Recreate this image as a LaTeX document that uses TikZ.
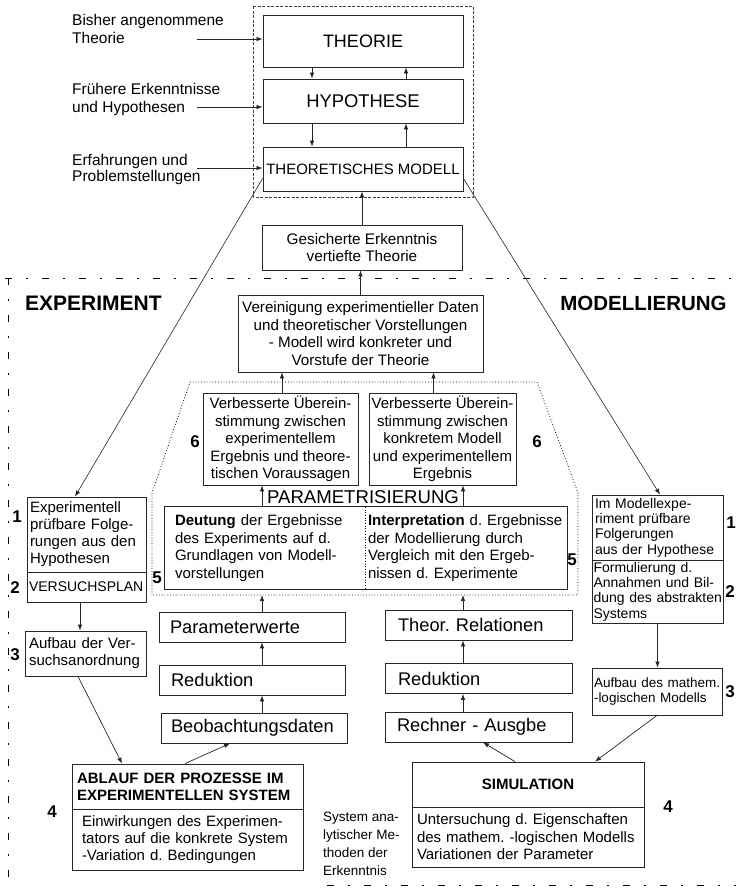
\documentclass[tikz,border=0pt]{standalone}
\usepackage{fontspec}
\setmainfont{Liberation Sans}
\usetikzlibrary{arrows.meta}
\newcommand\myfs[2]{\fontsize{#1}{#2}\selectfont}
\tikzset{
  box/.style={draw=black!85, line width=0.8pt, inner sep=0pt},
  tl/.style={text width=#1, execute at begin node={\rightskip=0pt plus 1fil minus 40pt\relax\hyphenpenalty=10000\exhyphenpenalty=10000\relax}},
  arr/.style={-{Latex[length=6pt,width=4.5pt]}, line width=0.7pt, draw=black!85},
  lab/.style={inner sep=0pt, align=left, anchor=west},
  num/.style={inner sep=0pt, font=\myfs{17}{19}\bfseries},
  frame/.style={line width=1pt, dash pattern=on 7pt off 14pt on 1.5pt off 14.5pt},
}
\begin{document}
\frenchspacing
\begin{tikzpicture}[x=1pt,y=-1pt]
\useasboundingbox (0,0) rectangle (736,889);

% --- top part ---
\draw[black!75, line width=0.6pt, dash pattern=on 3pt off 1.5pt] (253,6) rectangle (473,197);
\node[box, minimum width=200pt, minimum height=52pt, font=\myfs{18}{20}] (theorie) at (363,41) {THEORIE};
\node[box, minimum width=200pt, minimum height=44pt, font=\myfs{18.4}{20}] (hypo) at (363,101) {HYPOTHESE};
\node[box, minimum width=200pt, minimum height=44pt, font=\myfs{15}{17}] (tm) at (363,169) {THEORETISCHES MODELL};

\node[lab, font=\myfs{15.5}{18}] (l1) at (72,29) {Bisher angenommene\\Theorie};
\node[lab, font=\myfs{15.5}{18}] (l2) at (72,99) {Frühere Erkenntnisse\\und Hypothesen};
\node[lab, font=\myfs{15.5}{16}] (l3) at (72,169.5) {Erfahrungen und\\Problemstellungen};
\coordinate (a1) at (197,39);
\coordinate (a2) at (197,107);
\coordinate (a3) at (197,168);
\draw[arr] (a1) -- (a1 -| theorie.west);
\draw[arr] (a2) -- (a2 -| hypo.west);
\draw[arr] (a3) -- (a3 -| tm.west);

\draw[arr] ([xshift=-51pt]theorie.south) -- ([xshift=-51pt]hypo.north);
\draw[arr] ([xshift=43pt]hypo.north) -- ([xshift=43pt]theorie.south);
\draw[arr] ([xshift=-51pt]hypo.south) -- ([xshift=-51pt]tm.north);
\draw[arr] ([xshift=43pt]tm.north) -- ([xshift=43pt]hypo.south);

\node[box, minimum width=200pt, minimum height=45pt, align=center, font=\myfs{15.3}{17.5}] (gesich) at (362,247.5) {Gesicherte Erkenntnis\\vertiefte Theorie};
\draw[arr] (gesich.north) -- (gesich.north |- tm.south);

% --- frame ---
\draw[frame] (5,278) -- (736,278);
\draw[frame] (8,278) -- (8,880);
\draw[frame] (327,885) -- (736,885);

\node[inner sep=0pt, anchor=west, font=\myfs{21}{23}\bfseries] (expt) at (25,303) {EXPERIMENT};
\node[inner sep=0pt, font=\myfs{20.5}{23}\bfseries] (modt) at (643.5,303) {MODELLIERUNG};

\node[box, minimum width=245pt, minimum height=77pt, align=center, font=\myfs{15.2}{17.5}] (verein) at (360.5,333.5) {Vereinigung experimentieller Daten\\und theoretischer Vorstellungen\\- Modell wird konkreter und\\Vorstufe der Theorie};
\draw[arr] (verein.north) -- (verein.north |- gesich.south);

% --- dotted polygon ---
\coordinate (pTL) at (190,382);
\coordinate (pTR) at (537,382);
\coordinate (pRM) at (578,493);
\coordinate (pBR) at (578,595);
\coordinate (pBL) at (152,595);
\coordinate (pLM) at (152,493);
\draw[dotted, line width=0.8pt] (pTL) -- (pTR) -- (pRM) -- (pBR) -- (pBL) -- (pLM) -- cycle;

\node[box, minimum width=155pt, minimum height=92pt, align=center, font=\myfs{15}{17.5}] (verb1) at (280.5,439) {Verbesserte Überein-\\stimmung zwischen\\experimentellem\\Ergebnis und theore-\\tischen Voraussagen};
\node[box, minimum width=147pt, minimum height=92pt, align=center, font=\myfs{15}{17.5}] (verb2) at (442.5,439) {Verbesserte Überein-\\stimmung zwischen\\konkretem Modell\\und experimentellem\\Ergebnis};
\draw[arr] ([xshift=1.5pt]verb1.north) -- ([xshift=1.5pt]verb1.north |- verein.south);
\draw[arr] ([xshift=-9pt]verb2.north) -- ([xshift=-9pt]verb2.north |- verein.south);

\node[num] (n6a) at (195,442) {6};
\node[num] (n6b) at (537,442) {6};

\node[inner sep=0pt, font=\myfs{18.6}{20}] (param) at (363,497) {PARAMETRISIERUNG};

\node[inner sep=0pt, inner xsep=10pt, minimum height=82pt, tl=180pt, font=\myfs{15}{17.5}] (deutL) at (265,548) {\textbf{Deutung} der Ergebnisse\\des Experiments auf d.\\Grundlagen von Modell-\\vorstellungen};
\node[inner sep=0pt, inner xsep=3pt, minimum height=82pt, tl=196pt, font=\myfs{15}{17.5}] (deutR) at (466,548) {\textbf{Interpretation} d. Ergebnisse\\der Modellierung durch\\Vergleich mit den Ergeb-\\nissen d. Experimente};
\draw[black!85, line width=0.8pt] (deutL.north west) rectangle (deutR.south east);
\draw[dotted, line width=0.7pt] (deutL.north east) -- (deutL.south east);
\draw[arr] ([xshift=-3pt]deutL.north) -- ([xshift=-3pt]deutL.north |- verb1.south);
\draw[arr] ([xshift=-3pt]deutR.north) -- ([xshift=-3pt]deutR.north |- verb2.south);

\node[num] (n5a) at (157,578) {5};
\node[num] (n5b) at (572,560) {5};

% --- middle columns ---
\node[box, minimum width=186pt, minimum height=30pt, inner xsep=11pt, tl=164pt, font=\myfs{18.3}{20}] (pw) at (252,627) {Parameterwerte};
\node[box, minimum width=186pt, minimum height=30pt, inner xsep=12pt, tl=162pt, font=\myfs{18.3}{20}] (red1) at (252,680) {Reduktion};
\node[box, minimum width=186pt, minimum height=30pt, inner xsep=10pt, tl=166pt, font=\myfs{18.3}{20}] (beob) at (254,728) {Beobachtungsdaten};
\draw[arr] ([xshift=10pt]pw.north) -- ([xshift=10pt]pw.north |- pBL);
\draw[arr] ([xshift=10pt]red1.north) -- ([xshift=10pt]pw.south);
\draw[arr] ([xshift=10pt]red1.south |- beob.north) -- ([xshift=10pt]red1.south);

\node[box, minimum width=187pt, minimum height=30pt, inner xsep=13pt, tl=161pt, font=\myfs{18.3}{20}] (theor) at (478.5,625) {Theor. Relationen};
\node[box, minimum width=187pt, minimum height=30pt, inner xsep=13pt, tl=161pt, font=\myfs{18.3}{20}] (red2) at (478.5,678.5) {Reduktion};
\node[box, minimum width=187pt, minimum height=30pt, inner xsep=12pt, tl=163pt, font=\myfs{18.3}{20}] (rech) at (478.5,727) {Rechner - Ausgbe};
\draw[arr] ([xshift=-15.5pt]theor.north) -- ([xshift=-15.5pt]theor.north |- pBR);
\draw[arr] ([xshift=-15.5pt]red2.north) -- ([xshift=-15.5pt]theor.south);
\draw[arr] ([xshift=-15.5pt]rech.north) -- ([xshift=-15.5pt]red2.south);

% --- left column (EXPERIMENT) ---
\node[box, minimum width=119pt, minimum height=75pt, inner xsep=3pt, tl=113pt, font=\myfs{15}{17}] (exp1) at (86.5,534.5) {Experimentell\\prüfbare Folge-\\rungen aus den\\Hypothesen};
\node[box, minimum width=119pt, minimum height=30pt, inner xsep=2pt, tl=115pt, font=\myfs{14}{16}] (plan) at (86.5,587) {VERSUCHSPLAN};
\node[box, minimum width=121pt, minimum height=45pt, inner xsep=4pt, tl=113pt, font=\myfs{15}{17}] (auf1) at (85.5,653.5) {Aufbau der Ver-\\suchsanordnung};
\node[box, minimum width=231pt, minimum height=45pt, inner xsep=5pt, tl=221pt, font=\myfs{15}{17}\bfseries] (ablT) at (187.5,786.5) {ABLAUF DER PROZESSE IM\\EXPERIMENTELLEN SYSTEM};
\node[box, minimum width=231pt, minimum height=61pt, inner xsep=10pt, tl=211pt, font=\myfs{15}{17}] (ablB) at (187.5,839.5) {Einwirkungen des Experimen-\\tators auf die konkrete System\\-Variation d. Bedingungen};

\node[num] (n1a) at (17,517) {1};
\node[num] (n2a) at (15,588) {2};
\node[num] (n3a) at (15,655) {3};
\node[num] (n4a) at (52,812) {4};

\draw[arr] ([xshift=-6.5pt]plan.south) -- ([xshift=-5.5pt]auf1.north);
\draw[arr] ([xshift=-7.5pt]auf1.south) -- ([xshift=-65.5pt]ablT.north);
\draw[arr] ([xshift=-2.5pt]ablT.north) -- ([xshift=-24pt]beob.south);

% --- right column (MODELLIERUNG) ---
\node[box, minimum width=131pt, minimum height=65pt, inner xsep=3pt, tl=125pt, font=\myfs{14}{15.3}] (mexp) at (657.5,527.5) {Im Modellexpe-\\riment prüfbare\\Folgerungen\\aus der Hypothese};
\node[box, minimum width=131pt, minimum height=63pt, inner xsep=1.5pt, tl=128pt, font=\myfs{14}{15.3}] (form) at (657.5,591.5) {Formulierung d.\\Annahmen und Bil-\\dung des abstrakten\\Systems};
\node[box, minimum width=130pt, minimum height=47pt, inner xsep=2pt, tl=126pt, font=\myfs{13.5}{15}] (auf2) at (657,691.5) {Aufbau des mathem.\\-logischen Modells};
\node[box, minimum width=232pt, minimum height=45pt, font=\myfs{15}{17}\bfseries] (simT) at (528,784.5) {SIMULATION};
\node[box, minimum width=232pt, minimum height=60pt, inner xsep=5pt, tl=222pt, font=\myfs{15}{17.5}] (simB) at (528,837) {Untersuchung d. Eigenschaften\\des mathem. -logischen Modells\\Variationen der Parameter};

\node[num] (n1b) at (731,523) {1};
\node[num] (n2b) at (730,592) {2};
\node[num] (n3b) at (730,692) {3};
\node[num] (n4b) at (668,807) {4};

\draw[arr] (form.south) -- (form.south |- auf2.north);
\draw[arr] (auf2.south) -- ([xshift=67pt]simT.north);
\draw[arr] ([xshift=-13pt]simT.north) -- ([xshift=4.5pt]rech.south);

\node[lab, font=\myfs{13.5}{18}] (sysa) at (323,844) {System ana-\\lytischer Me-\\thoden der\\Erkenntnis};

% --- long diagonals ---
\draw[arr, line width=0.6pt] ([yshift=13pt]tm.south west) -- ([xshift=-11.5pt]exp1.north);
\draw[arr, line width=0.6pt] ([yshift=13pt]tm.south east) -- ([xshift=2.5pt]mexp.north);
\end{tikzpicture}
\end{document}
